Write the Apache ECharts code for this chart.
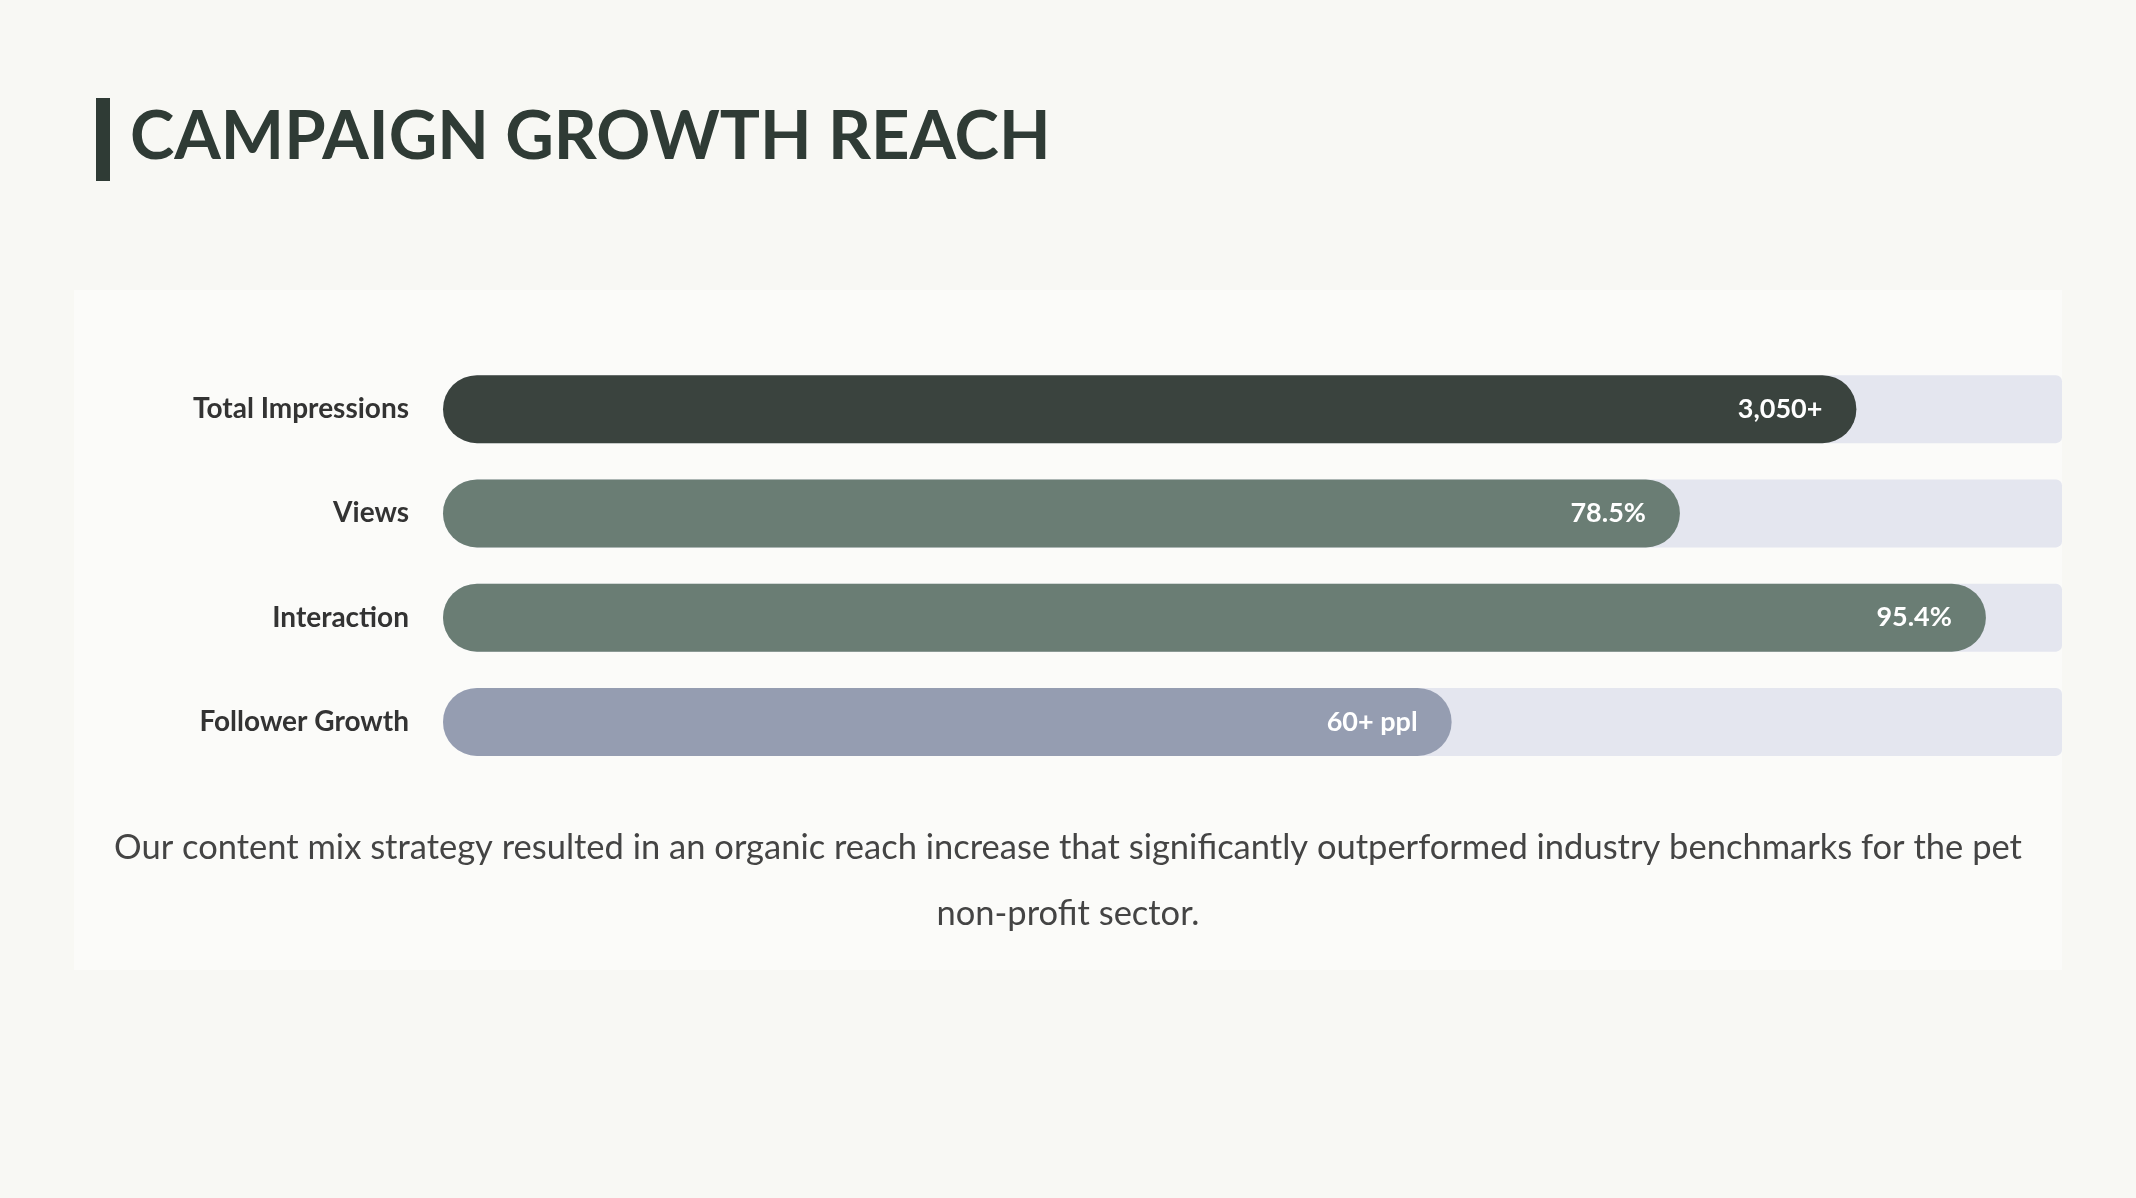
<!DOCTYPE html>
<html>
<head>
<meta charset="utf-8">
<script src="https://cdn.jsdelivr.net/npm/echarts@6/dist/echarts.min.js"></script>
<style>
  html, body { margin: 0; padding: 0; background: #f8f8f4; }
  #main { width: 2136px; height: 1198px; }
</style>
</head>
<body>
<div id="main"></div>
<script>
var categories = ['Total Impressions', 'Views', 'Interaction', 'Follower Growth'];
// bar length as percent of the full track
var values = [87.3, 76.4, 95.3, 62.3];
var valueLabels = ['3,050+', '78.5%', '95.4%', '60+ ppl'];
var barColors = ['#3a433e', '#6a7d74', '#6a7d74', '#959db1'];

var chart = echarts.init(document.getElementById('main'));

var option = {
    backgroundColor: '#f8f8f4',
    graphic: [
        { type: 'rect', shape: { x: 74, y: 290, width: 1988, height: 680 }, style: { fill: '#fbfbf9' }, z: -1 },
        { type: 'rect', shape: { x: 96, y: 98, width: 14, height: 83 }, style: { fill: '#2f3b35' } },
        { type: 'text', left: 130, top: 104, style: { text: 'CAMPAIGN GROWTH REACH', fill: '#2f3b35', font: '700 67px Lato' } },
        { type: 'text', x: 1068, y: 815, style: {
            text: 'Our content mix strategy resulted in an organic reach increase that significantly outperformed industry benchmarks for the pet\nnon-profit sector.',
            fill: '#444444', font: '34.5px Lato', align: 'center', verticalAlign: 'top', lineHeight: 66 } }
    ],
    grid: { left: 443, right: 74, top: 357, bottom: 424 },
    xAxis: { type: 'value', min: 0, max: 100, show: false },
    yAxis: {
        type: 'category',
        data: categories,
        inverse: true,
        axisLine: { show: false },
        axisTick: { show: false },
        axisLabel: { color: '#333333', fontSize: 28, fontFamily: 'Lato', fontWeight: 700, margin: 34 }
    },
    series: [{
        type: 'bar',
        barWidth: 68,
        data: values.map(function (v, i) {
            return { value: v, itemStyle: { color: barColors[i] } };
        }),
        itemStyle: { borderRadius: 34 },
        showBackground: true,
        backgroundStyle: { color: '#e4e6ef', borderRadius: [34, 6, 6, 34] },
        label: {
            show: true,
            position: 'insideRight',
            distance: 34,
            color: '#ffffff',
            fontSize: 27,
            fontFamily: 'Lato',
            fontWeight: 700,
            formatter: function (p) { return valueLabels[p.dataIndex]; }
        }
    }]
};

chart.setOption(option);
</script>
</body>
</html>
